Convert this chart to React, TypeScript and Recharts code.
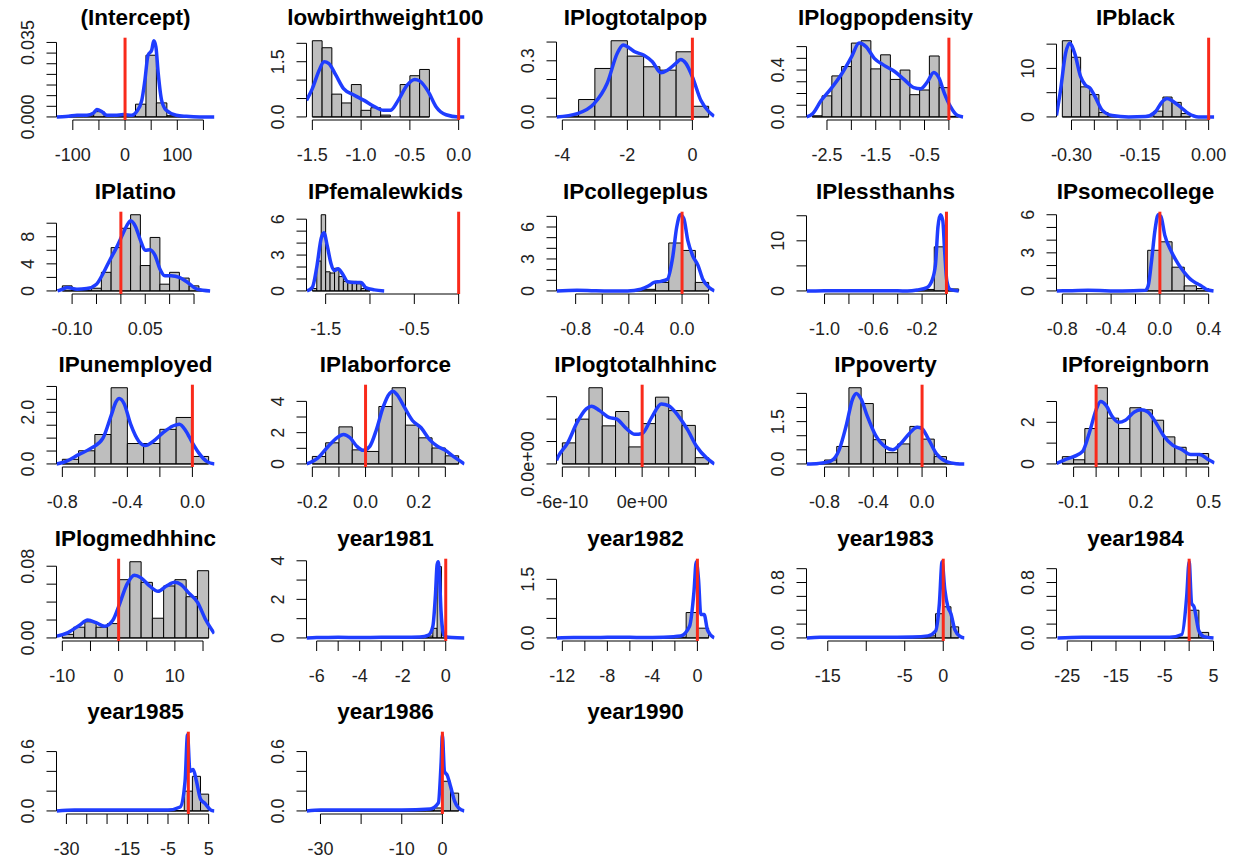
import React from "react";
import { ComposedChart, Line, XAxis, YAxis, ReferenceArea, ReferenceLine } from "recharts";

type Tick = [number, string];
type Pt = [number, number];

const trueValue = 0;

// (Intercept)
const interceptBreaks = [-120, -100, -80, -60, -40, -20, 0, 20, 40, 60, 80, 100, 120, 140, 160];
const interceptHeights = [0.0002, 0.0003, 0.0005, 0.0025, 0.0003, 0.0004, 0.0008, 0.006, 0.029, 0.0066, 0.0006, 0.0003, 0.0002, 0.0001];
const interceptDensity: Pt[] = [[-131, 0], [-120, 0.0001], [-108, 0.0003], [-92, 0.0008], [-73, 0.0008], [-60, 0.0019], [-54, 0.0035], [-44, 0.0024], [-35, 0.0008], [-19, 0.0008], [-3, 0.0011], [13, 0.0008], [22, 0.0024], [32, 0.0078], [38, 0.0173], [44, 0.029], [51, 0.0314], [55, 0.0358], [59, 0.033], [63.5, 0.0204], [70, 0.0078], [79, 0.0031], [98, 0.0008], [117, 0.0003], [143, 0], [171, 0]];
const interceptXTicks: Tick[] = [[-100, "-100"], [-50, ""], [0, "0"], [50, ""], [100, "100"], [150, ""]];
const interceptYTicks: Tick[] = [[0, "0.000"], [0.005, ""], [0.01, ""], [0.015, ""], [0.02, ""], [0.025, ""], [0.03, ""], [0.035, "0.035"]];

// lowbirthweight100
const lbwBreaks = [-1.5, -1.4, -1.3, -1.2, -1.1, -1.0, -0.9, -0.8, -0.7, -0.6, -0.5, -0.4, -0.3];
const lbwHeights = [2.07, 1.88, 0.62, 0.38, 0.88, 0.18, 0.25, 0.05, 0, 0.88, 1.12, 1.29];
const lbwDensity: Pt[] = [[-1.56, 0.45], [-1.5, 0.77], [-1.43, 1.27], [-1.38, 1.5], [-1.33, 1.45], [-1.26, 1.14], [-1.18, 0.77], [-1.07, 0.59], [-0.97, 0.45], [-0.87, 0.29], [-0.77, 0.18], [-0.7, 0.18], [-0.62, 0.45], [-0.53, 0.86], [-0.45, 1.02], [-0.4, 0.98], [-0.31, 0.68], [-0.23, 0.27], [-0.13, 0.06], [0, 0], [0.06, 0]];
const lbwXTicks: Tick[] = [[-1.5, "-1.5"], [-1, "-1.0"], [-0.5, "-0.5"], [0, "0.0"]];
const lbwYTicks: Tick[] = [[0, "0.0"], [0.5, ""], [1, ""], [1.5, "1.5"], [2, ""]];

// IPlogtotalpop
const totpopBreaks = [-4, -3.5, -3, -2.5, -2, -1.5, -1, -0.5, 0, 0.5];
const totpopHeights = [0.005, 0.093, 0.259, 0.407, 0.325, 0.268, 0.25, 0.348, 0.057];
const totpopDensity: Pt[] = [[-4.18, 0], [-3.54, 0.018], [-3.03, 0.07], [-2.62, 0.18], [-2.31, 0.34], [-2.13, 0.384], [-1.95, 0.37], [-1.79, 0.35], [-1.49, 0.33], [-1.23, 0.295], [-0.97, 0.236], [-0.77, 0.25], [-0.51, 0.286], [-0.36, 0.307], [-0.2, 0.286], [0, 0.214], [0.26, 0.089], [0.51, 0.027], [0.67, 0.004]];
const totpopXTicks: Tick[] = [[-4, "-4"], [-3, ""], [-2, "-2"], [-1, ""], [0, "0"]];
const totpopYTicks: Tick[] = [[0, "0.0"], [0.1, ""], [0.2, ""], [0.3, "0.3"], [0.4, ""]];

// IPlogpopdensity
const popdenBreaks = [-2.8, -2.6, -2.4, -2.2, -2, -1.8, -1.6, -1.4, -1.2, -1, -0.8, -0.6, -0.4, -0.2, 0, 0.2];
const popdenHeights = [0.01, 0.18, 0.35, 0.43, 0.63, 0.65, 0.41, 0.53, 0.32, 0.4, 0.19, 0.23, 0.52, 0.25, 0.005];
const popdenDensity: Pt[] = [[-2.92, 0], [-2.79, 0.03], [-2.62, 0.14], [-2.42, 0.24], [-2.21, 0.36], [-2.0, 0.51], [-1.84, 0.63], [-1.7, 0.6], [-1.53, 0.5], [-1.33, 0.44], [-1.12, 0.39], [-0.92, 0.32], [-0.72, 0.25], [-0.58, 0.24], [-0.44, 0.3], [-0.31, 0.38], [-0.2, 0.33], [-0.1, 0.21], [0.03, 0.09], [0.17, 0.014], [0.29, 0]];
const popdenXTicks: Tick[] = [[-2.5, "-2.5"], [-2, ""], [-1.5, "-1.5"], [-1, ""], [-0.5, "-0.5"], [0, ""]];
const popdenYTicks: Tick[] = [[0, "0.0"], [0.1, ""], [0.2, ""], [0.3, ""], [0.4, "0.4"], [0.5, ""], [0.6, ""]];

// IPblack
const blackBreaks = [-0.32, -0.3, -0.28, -0.26, -0.24, -0.22, -0.2, -0.18, -0.16, -0.14, -0.12, -0.1, -0.08, -0.06, -0.04];
const blackHeights = [15.7, 12.3, 6.2, 4.6, 0.9, 0.3, 0, 0, 0, 0, 1.2, 4.1, 3.0, 0.7];
const blackDensity: Pt[] = [[-0.333, 0.3], [-0.324, 5.5], [-0.313, 13.1], [-0.304, 15.2], [-0.293, 13.1], [-0.28, 8.3], [-0.27, 6.6], [-0.259, 5.9], [-0.248, 4.1], [-0.233, 1.4], [-0.211, 0.3], [-0.175, 0], [-0.138, 0.1], [-0.117, 1.0], [-0.102, 3.1], [-0.091, 3.8], [-0.076, 3.1], [-0.062, 2.1], [-0.044, 0.7], [-0.022, 0], [0.012, 0]];
const blackXTicks: Tick[] = [[-0.3, "-0.30"], [-0.25, ""], [-0.2, ""], [-0.15, "-0.15"], [-0.1, ""], [-0.05, ""], [0, "0.00"]];
const blackYTicks: Tick[] = [[0, "0"], [5, ""], [10, "10"], [15, ""]];

// IPlatino
const latinoBreaks = [-0.12, -0.1, -0.08, -0.06, -0.04, -0.02, 0, 0.02, 0.04, 0.06, 0.08, 0.1, 0.12, 0.14, 0.16, 0.18];
const latinoHeights = [0.75, 0.1, 0.1, 0.4, 2.75, 6.4, 9.25, 11.25, 3.75, 7.9, 1.0, 2.75, 1.9, 0.75, 0.1];
const latinoDensity: Pt[] = [[-0.13, 0], [-0.12, 0.25], [-0.11, 0.5], [-0.09, 0.25], [-0.07, 0.35], [-0.05, 1.0], [-0.037, 2.5], [-0.023, 4.5], [-0.01, 6.25], [0.003, 8.25], [0.013, 9.75], [0.02, 10.35], [0.03, 9.5], [0.04, 7.5], [0.05, 6], [0.06, 6.1], [0.07, 5.25], [0.08, 3.25], [0.09, 2.25], [0.103, 2.25], [0.12, 2.0], [0.137, 1.25], [0.157, 0.25], [0.183, 0]];
const latinoXTicks: Tick[] = [[-0.1, "-0.10"], [-0.05, ""], [0, ""], [0.05, "0.05"], [0.1, ""], [0.15, ""]];
const latinoYTicks: Tick[] = [[0, "0"], [2, ""], [4, "4"], [6, ""], [8, "8"], [10, ""]];

// IPfemalewkids
const femkidsBreaks = [-1.65, -1.6, -1.55, -1.5, -1.45, -1.4, -1.35, -1.3, -1.25, -1.2, -1.15, -1.1, -1.05, -1.0];
const femkidsHeights = [0.2, 2.5, 6.37, 1.6, 1.5, 1.9, 1.2, 0.8, 0.8, 0.8, 0.6, 0.2, 0.1];
const femkidsDensity: Pt[] = [[-1.71, 0], [-1.65, 0.3], [-1.6, 2], [-1.55, 4.4], [-1.52, 4.86], [-1.48, 3.7], [-1.44, 2.3], [-1.4, 1.7], [-1.36, 1.86], [-1.31, 1.43], [-1.25, 0.77], [-1.18, 0.71], [-1.1, 0.71], [-1.05, 0.29], [-0.95, 0.09], [-0.84, 0]];
const femkidsXTicks: Tick[] = [[-1.5, "-1.5"], [-1, ""], [-0.5, "-0.5"], [0, ""]];
const femkidsYTicks: Tick[] = [[0, "0"], [1, ""], [2, ""], [3, "3"], [4, ""], [5, ""], [6, "6"]];

// IPcollegeplus
const collBreaks = [-0.9, -0.8, -0.7, -0.6, -0.5, -0.4, -0.3, -0.2, -0.1, 0, 0.1, 0.2];
const collHeights = [0.03, 0.02, 0.03, 0.02, 0.02, 0.03, 0.15, 0.8, 4.5, 3.8, 0.8];
const collDensity: Pt[] = [[-0.944, 0], [-0.79, 0.06], [-0.66, 0.02], [-0.54, 0], [-0.41, 0], [-0.31, 0.16], [-0.25, 0.48], [-0.21, 0.8], [-0.16, 0.9], [-0.11, 1.1], [-0.07, 3.2], [-0.04, 6.0], [-0.013, 7.15], [0.013, 6.8], [0.043, 4.75], [0.08, 3.3], [0.12, 2.4], [0.156, 1.1], [0.206, 0.3], [0.244, 0]];
const collXTicks: Tick[] = [[-0.8, "-0.8"], [-0.6, ""], [-0.4, "-0.4"], [-0.2, ""], [0, "0.0"], [0.2, ""]];
const collYTicks: Tick[] = [[0, "0"], [1, ""], [2, ""], [3, "3"], [4, ""], [5, ""], [6, "6"], [7, ""]];

// IPlessthanhs
const lthsBreaks = [-1.1, -1.0, -0.9, -0.8, -0.7, -0.6, -0.5, -0.4, -0.3, -0.2, -0.1, 0, 0.1];
const lthsHeights = [0.01, 0.02, 0.01, 0.02, 0.01, 0.02, 0.02, 0.05, 0.1, 0.3, 8.8, 0.4];
const lthsDensity: Pt[] = [[-1.148, 0], [-1.0, 0.02], [-0.8, 0.05], [-0.6, 0.02], [-0.4, 0.03], [-0.32, 0], [-0.24, 0.2], [-0.16, 0.67], [-0.12, 2], [-0.09, 5.3], [-0.07, 12.7], [-0.05, 15.2], [-0.03, 14], [-0.015, 8], [0.003, 2], [0.03, 0.33], [0.1, 0]];
const lthsXTicks: Tick[] = [[-1, "-1.0"], [-0.8, ""], [-0.6, "-0.6"], [-0.4, ""], [-0.2, "-0.2"], [0, ""]];
const lthsYTicks: Tick[] = [[0, "0"], [5, ""], [10, "10"], [15, ""]];

// IPsomecollege
const somecBreaks = [-0.8, -0.7, -0.6, -0.5, -0.4, -0.3, -0.2, -0.1, 0, 0.1, 0.2, 0.3, 0.4];
const somecHeights = [0.01, 0.02, 0.01, 0.01, 0.02, 0.01, 0.02, 3.2, 3.87, 1.87, 0.4, 0.19];
const somecDensity: Pt[] = [[-0.848, 0], [-0.72, 0.02], [-0.59, 0.05], [-0.31, 0], [-0.12, 0.05], [-0.096, 0.4], [-0.068, 2.4], [-0.04, 4.8], [-0.014, 6.0], [0.008, 5.87], [0.04, 4.4], [0.096, 3.07], [0.15, 2.13], [0.2, 1.47], [0.26, 0.85], [0.3, 0.6], [0.34, 0.4], [0.38, 0.13], [0.44, 0]];
const somecXTicks: Tick[] = [[-0.8, "-0.8"], [-0.6, ""], [-0.4, "-0.4"], [-0.2, ""], [0, "0.0"], [0.2, ""], [0.4, "0.4"]];
const somecYTicks: Tick[] = [[0, "0"], [1, ""], [2, ""], [3, "3"], [4, ""], [5, ""], [6, "6"]];

// IPunemployed
const unempBreaks = [-0.8, -0.7, -0.6, -0.5, -0.4, -0.3, -0.2, -0.1, 0, 0.1];
const unempHeights = [0.18, 0.51, 1.14, 2.95, 0.79, 0.79, 1.34, 1.8, 0.29];
const unempDensity: Pt[] = [[-0.836, 0], [-0.78, 0.09], [-0.7, 0.36], [-0.62, 0.62], [-0.55, 1.0], [-0.5, 1.87], [-0.47, 2.4], [-0.45, 2.53], [-0.42, 2.33], [-0.38, 1.54], [-0.33, 0.88], [-0.29, 0.71], [-0.24, 0.88], [-0.18, 1.21], [-0.12, 1.47], [-0.08, 1.54], [-0.04, 1.28], [0, 0.82], [0.04, 0.42], [0.09, 0.09], [0.136, 0]];
const unempXTicks: Tick[] = [[-0.8, "-0.8"], [-0.6, ""], [-0.4, "-0.4"], [-0.2, ""], [0, "0.0"]];
const unempYTicks: Tick[] = [[0, "0.0"], [0.5, ""], [1, ""], [1.5, ""], [2, "2.0"], [2.5, ""], [3, ""]];

// IPlaborforce
const laborBreaks = [-0.2, -0.15, -0.1, -0.05, 0, 0.05, 0.1, 0.15, 0.2, 0.25, 0.3, 0.35];
const laborHeights = [0.48, 1.35, 2.37, 0.9, 0.8, 3.67, 4.87, 2.48, 1.67, 1.02, 0.52];
const laborDensity: Pt[] = [[-0.222, 0], [-0.18, 0.37], [-0.14, 1.13], [-0.108, 1.67], [-0.083, 1.89], [-0.058, 1.67], [-0.033, 1.13], [-0.009, 0.87], [0.016, 1.13], [0.041, 2.2], [0.066, 3.63], [0.09, 4.5], [0.103, 4.65], [0.12, 4.39], [0.146, 3.63], [0.177, 2.76], [0.208, 2.33], [0.24, 1.57], [0.27, 1.13], [0.3, 0.87], [0.33, 0.48], [0.372, 0]];
const laborXTicks: Tick[] = [[-0.2, "-0.2"], [-0.1, ""], [0, "0.0"], [0.1, ""], [0.2, "0.2"], [0.3, ""]];
const laborYTicks: Tick[] = [[0, "0"], [1, ""], [2, "2"], [3, ""], [4, "4"]];

// IPlogtotalhhinc (x in units of 1e-10, y in units of 1e8)
const hhincBreaks = [-6, -5, -4, -3, -2, -1, 0, 1, 2, 3, 4, 5];
const hhincHeights = [4.7, 10.0, 17.0, 8.5, 11.7, 3.8, 9.0, 14.9, 11.9, 8.6, 1.4];
const hhincDensity: Pt[] = [[-6.44, 0.8], [-6.3, 1.7], [-5.6, 4.7], [-4.9, 9.2], [-4.2, 12.3], [-3.8, 12.9], [-3.2, 11.9], [-2.5, 10.4], [-1.9, 10], [-1.26, 8.1], [-0.54, 6.6], [0, 6.8], [0.72, 10.4], [1.44, 13.4], [1.98, 13], [2.7, 10.8], [3.4, 7.7], [4.1, 3.9], [4.86, 1.3], [5.44, 0]];
const hhincXTicks: Tick[] = [[-6, "-6e-10"], [-4, ""], [-2, ""], [0, "0e+00"], [2, ""], [4, ""]];
const hhincYTicks: Tick[] = [[0, "0.0e+00"], [5, ""], [10, ""], [15, ""]];

// IPpoverty
const povBreaks = [-0.9, -0.8, -0.7, -0.6, -0.5, -0.4, -0.3, -0.2, -0.1, 0, 0.1, 0.2, 0.3];
const povHeights = [0.02, 0.14, 0.62, 2.7, 2.14, 0.86, 0.4, 0.71, 1.33, 0.88, 0.26, 0.03];
const povDensity: Pt[] = [[-0.948, 0], [-0.85, 0.02], [-0.75, 0.1], [-0.68, 0.5], [-0.62, 1.4], [-0.57, 2.3], [-0.54, 2.5], [-0.5, 2.3], [-0.45, 1.7], [-0.38, 1.0], [-0.3, 0.6], [-0.24, 0.5], [-0.18, 0.7], [-0.1, 1.1], [-0.04, 1.3], [0, 1.25], [0.05, 0.9], [0.12, 0.35], [0.2, 0.08], [0.28, 0.01], [0.348, 0]];
const povXTicks: Tick[] = [[-0.8, "-0.8"], [-0.6, ""], [-0.4, "-0.4"], [-0.2, ""], [0, "0.0"], [0.2, ""]];
const povYTicks: Tick[] = [[0, "0.0"], [0.5, ""], [1, ""], [1.5, "1.5"], [2, ""], [2.5, ""]];

// IPforeignborn
const fbBreaks = [-0.15, -0.1, -0.05, 0, 0.05, 0.1, 0.15, 0.2, 0.25, 0.3, 0.35, 0.4, 0.45, 0.5];
const fbHeights = [0.35, 0.2, 1.7, 3.66, 2.2, 1.7, 2.7, 2.6, 2.1, 1.3, 0.8, 0.2, 0.5];
const fbDensity: Pt[] = [[-0.176, 0.02], [-0.14, 0.2], [-0.1, 0.35], [-0.06, 0.6], [-0.03, 1.5], [0, 2.6], [0.02, 3.0], [0.045, 2.8], [0.07, 2.3], [0.1, 2.0], [0.13, 2.1], [0.17, 2.5], [0.2, 2.6], [0.23, 2.5], [0.27, 1.9], [0.3, 1.35], [0.34, 0.9], [0.38, 0.7], [0.42, 0.45], [0.46, 0.45], [0.5, 0.2], [0.526, 0.05]];
const fbXTicks: Tick[] = [[-0.1, "-0.1"], [0, ""], [0.1, ""], [0.2, "0.2"], [0.3, ""], [0.4, ""], [0.5, "0.5"]];
const fbYTicks: Tick[] = [[0, "0"], [1, ""], [2, "2"], [3, ""]];

// IPlogmedhhinc
const medincBreaks = [-10, -8, -6, -4, -2, 0, 2, 4, 6, 8, 10, 12, 14, 16];
const medincHeights = [0.004, 0.012, 0.018, 0.012, 0.016, 0.065, 0.085, 0.062, 0.022, 0.058, 0.065, 0.046, 0.075];
const medincDensity: Pt[] = [[-11, 0.002], [-9, 0.006], [-7, 0.014], [-5.5, 0.02], [-4, 0.017], [-2.5, 0.013], [-1, 0.02], [0, 0.035], [1.5, 0.06], [2.8, 0.07], [4, 0.067], [5.5, 0.058], [7, 0.052], [8.5, 0.058], [10, 0.062], [11, 0.06], [12.5, 0.05], [14, 0.04], [15.5, 0.02], [17, 0.005]];
const medincXTicks: Tick[] = [[-10, "-10"], [-5, ""], [0, "0"], [5, ""], [10, "10"], [15, ""]];
const medincYTicks: Tick[] = [[0, "0.00"], [0.02, ""], [0.04, ""], [0.06, ""], [0.08, "0.08"]];

// year1981
const y81Breaks = [-6.2, -6, -5.8, -5.6, -5.4, -5.2, -5, -4.8, -4.6, -4.4, -4.2, -4, -3.8, -3.6, -3.4, -3.2, -3, -2.8, -2.6, -2.4, -2.2, -2, -1.8, -1.6, -1.4, -1.2, -1, -0.8, -0.6, -0.4, -0.2, 0, 0.2, 0.4, 0.6];
const y81Heights = [0.01, 0.01, 0.01, 0.01, 0.01, 0.01, 0.01, 0.01, 0.01, 0.01, 0.01, 0.01, 0.01, 0.01, 0.01, 0.01, 0.01, 0.01, 0.01, 0.01, 0.01, 0.01, 0.01, 0.01, 0.01, 0.02, 0.05, 0.1, 0.5, 3.7, 0.15, 0.05, 0.02, 0.01];
const y81Density: Pt[] = [[-6.47, 0], [-6, 0.02], [-5, 0.03], [-4, 0.02], [-3, 0.03], [-2, 0.03], [-1.2, 0.05], [-0.8, 0.15], [-0.6, 0.6], [-0.48, 2.2], [-0.4, 3.8], [-0.35, 3.95], [-0.3, 3.4], [-0.22, 1.4], [-0.12, 0.3], [0, 0.06], [0.3, 0.02], [0.87, 0]];
const y81XTicks: Tick[] = [[-6, "-6"], [-5, ""], [-4, "-4"], [-3, ""], [-2, "-2"], [-1, ""], [0, "0"]];
const y81YTicks: Tick[] = [[0, "0"], [1, ""], [2, "2"], [3, ""], [4, "4"]];

// year1982
const y82Breaks = [-12, -11, -10, -9, -8, -7, -6, -5, -4, -3, -2, -1, 0, 1];
const y82Heights = [0.005, 0.005, 0.005, 0.005, 0.005, 0.005, 0.005, 0.005, 0.005, 0.005, 0.02, 0.65, 0.25];
const y82Density: Pt[] = [[-12.5, 0], [-11, 0.01], [-9, 0.01], [-7, 0.02], [-5, 0.01], [-3, 0.02], [-1.5, 0.05], [-0.7, 0.3], [-0.3, 1.2], [-0.1, 1.95], [0.1, 1.5], [0.3, 0.6], [0.6, 0.6], [0.9, 0.2], [1.5, 0]];
const y82XTicks: Tick[] = [[-12, "-12"], [-10, ""], [-8, "-8"], [-6, ""], [-4, "-4"], [-2, ""], [0, "0"]];
const y82YTicks: Tick[] = [[0, "0.0"], [0.5, ""], [1, ""], [1.5, "1.5"]];

// year1983
const y83Breaks = [-17, -16, -15, -14, -13, -12, -11, -10, -9, -8, -7, -6, -5, -4, -3, -2, -1, 0, 1, 2];
const y83Heights = [0.003, 0.003, 0.003, 0.003, 0.003, 0.003, 0.003, 0.003, 0.003, 0.003, 0.003, 0.003, 0.003, 0.003, 0.003, 0.03, 0.35, 0.45, 0.16];
const y83Density: Pt[] = [[-17.76, 0], [-16, 0.01], [-12, 0.01], [-8, 0.01], [-4, 0.015], [-2, 0.03], [-1, 0.1], [-0.5, 0.5], [-0.15, 1.1], [0.2, 0.7], [0.6, 0.45], [1.0, 0.35], [1.5, 0.12], [2.2, 0.02], [2.76, 0]];
const y83XTicks: Tick[] = [[-15, "-15"], [-10, ""], [-5, "-5"], [0, "0"]];
const y83YTicks: Tick[] = [[0, "0.0"], [0.2, ""], [0.4, ""], [0.6, ""], [0.8, "0.8"], [1, ""]];

// year1984
const y84Breaks = [-26, -24, -22, -20, -18, -16, -14, -12, -10, -8, -6, -4, -2, 0, 2, 4];
const y84Heights = [0.001, 0.001, 0.001, 0.001, 0.001, 0.001, 0.001, 0.001, 0.001, 0.001, 0.001, 0.002, 0.01, 0.4, 0.08];
const y84Density: Pt[] = [[-27, 0], [-22, 0.01], [-16, 0.01], [-10, 0.01], [-4, 0.01], [-1.5, 0.05], [-0.5, 0.6], [0, 1.1], [0.5, 0.5], [1, 0.45], [2, 0.1], [3, 0.02], [5, 0]];
const y84XTicks: Tick[] = [[-25, "-25"], [-20, ""], [-15, "-15"], [-10, ""], [-5, "-5"], [0, ""], [5, "5"]];
const y84YTicks: Tick[] = [[0, "0.0"], [0.2, ""], [0.4, ""], [0.6, ""], [0.8, "0.8"], [1, ""]];

// year1985
const y85Breaks = [-31, -29, -27, -25, -23, -21, -19, -17, -15, -13, -11, -9, -7, -5, -3, -1, 1, 3, 5];
const y85Heights = [0.002, 0.002, 0.002, 0.002, 0.002, 0.002, 0.002, 0.002, 0.002, 0.002, 0.002, 0.002, 0.002, 0.002, 0.004, 0.2, 0.35, 0.17];
const y85Density: Pt[] = [[-32.4, 0], [-28, 0.01], [-20, 0.01], [-12, 0.01], [-5, 0.01], [-2, 0.04], [-0.8, 0.3], [-0.2, 0.77], [0.4, 0.4], [1.2, 0.42], [2, 0.3], [3, 0.12], [4, 0.08], [5.5, 0.01], [6.4, 0]];
const y85XTicks: Tick[] = [[-30, "-30"], [-25, ""], [-20, ""], [-15, "-15"], [-10, ""], [-5, "-5"], [0, ""], [5, "5"]];
const y85YTicks: Tick[] = [[0, "0.0"], [0.2, ""], [0.4, ""], [0.6, "0.6"]];

// year1986
const y86Breaks = [-32, -30, -28, -26, -24, -22, -20, -18, -16, -14, -12, -10, -8, -6, -4, -2, 0, 2, 4];
const y86Heights = [0.002, 0.002, 0.002, 0.002, 0.002, 0.002, 0.002, 0.002, 0.002, 0.002, 0.002, 0.002, 0.002, 0.002, 0.003, 0.03, 0.3, 0.18];
const y86Density: Pt[] = [[-33.4, 0], [-30, 0.01], [-20, 0.01], [-10, 0.01], [-3, 0.02], [-1, 0.08], [-0.3, 0.5], [0, 0.77], [0.5, 0.4], [1.2, 0.36], [2, 0.25], [3, 0.1], [4, 0.03], [5.4, 0]];
const y86XTicks: Tick[] = [[-30, "-30"], [-20, ""], [-10, "-10"], [0, "0"]];
const y86YTicks: Tick[] = [[0, "0.0"], [0.2, ""], [0.4, ""], [0.6, "0.6"]];

type PanelDef = {
  title: string;
  breaks?: number[];
  heights?: number[];
  density?: Pt[];
  xTicks?: Tick[];
  yTicks?: Tick[];
};

const panels: PanelDef[] = [
  { title: "(Intercept)", breaks: interceptBreaks, heights: interceptHeights, density: interceptDensity, xTicks: interceptXTicks, yTicks: interceptYTicks },
  { title: "lowbirthweight100", breaks: lbwBreaks, heights: lbwHeights, density: lbwDensity, xTicks: lbwXTicks, yTicks: lbwYTicks },
  { title: "IPlogtotalpop", breaks: totpopBreaks, heights: totpopHeights, density: totpopDensity, xTicks: totpopXTicks, yTicks: totpopYTicks },
  { title: "IPlogpopdensity", breaks: popdenBreaks, heights: popdenHeights, density: popdenDensity, xTicks: popdenXTicks, yTicks: popdenYTicks },
  { title: "IPblack", breaks: blackBreaks, heights: blackHeights, density: blackDensity, xTicks: blackXTicks, yTicks: blackYTicks },
  { title: "IPlatino", breaks: latinoBreaks, heights: latinoHeights, density: latinoDensity, xTicks: latinoXTicks, yTicks: latinoYTicks },
  { title: "IPfemalewkids", breaks: femkidsBreaks, heights: femkidsHeights, density: femkidsDensity, xTicks: femkidsXTicks, yTicks: femkidsYTicks },
  { title: "IPcollegeplus", breaks: collBreaks, heights: collHeights, density: collDensity, xTicks: collXTicks, yTicks: collYTicks },
  { title: "IPlessthanhs", breaks: lthsBreaks, heights: lthsHeights, density: lthsDensity, xTicks: lthsXTicks, yTicks: lthsYTicks },
  { title: "IPsomecollege", breaks: somecBreaks, heights: somecHeights, density: somecDensity, xTicks: somecXTicks, yTicks: somecYTicks },
  { title: "IPunemployed", breaks: unempBreaks, heights: unempHeights, density: unempDensity, xTicks: unempXTicks, yTicks: unempYTicks },
  { title: "IPlaborforce", breaks: laborBreaks, heights: laborHeights, density: laborDensity, xTicks: laborXTicks, yTicks: laborYTicks },
  { title: "IPlogtotalhhinc", breaks: hhincBreaks, heights: hhincHeights, density: hhincDensity, xTicks: hhincXTicks, yTicks: hhincYTicks },
  { title: "IPpoverty", breaks: povBreaks, heights: povHeights, density: povDensity, xTicks: povXTicks, yTicks: povYTicks },
  { title: "IPforeignborn", breaks: fbBreaks, heights: fbHeights, density: fbDensity, xTicks: fbXTicks, yTicks: fbYTicks },
  { title: "IPlogmedhhinc", breaks: medincBreaks, heights: medincHeights, density: medincDensity, xTicks: medincXTicks, yTicks: medincYTicks },
  { title: "year1981", breaks: y81Breaks, heights: y81Heights, density: y81Density, xTicks: y81XTicks, yTicks: y81YTicks },
  { title: "year1982", breaks: y82Breaks, heights: y82Heights, density: y82Density, xTicks: y82XTicks, yTicks: y82YTicks },
  { title: "year1983", breaks: y83Breaks, heights: y83Heights, density: y83Density, xTicks: y83XTicks, yTicks: y83YTicks },
  { title: "year1984", breaks: y84Breaks, heights: y84Heights, density: y84Density, xTicks: y84XTicks, yTicks: y84YTicks },
  { title: "year1985", breaks: y85Breaks, heights: y85Heights, density: y85Density, xTicks: y85XTicks, yTicks: y85YTicks },
  { title: "year1986", breaks: y86Breaks, heights: y86Heights, density: y86Density, xTicks: y86XTicks, yTicks: y86YTicks },
  { title: "year1990" },
];

const FONT = '"Liberation Sans", Arial, Helvetica, sans-serif';
const W = 250;
const H = 174;
const ROW_H = 173.6;
const PL = 56.5; // plot left
const PR = 214.5; // plot right
const PT = 37.7; // plot top
const PB = 120; // plot bottom
const YAXIS_W = 50;
const XAXIS_H = 40;
const TICK_LEN = 10;
const GRAY = "#bebebe";
const BLUE = "#1f3dff";
const RED = "#f92a1b";
const LABEL = "#222";

const findLabel = (ticks: Tick[], v: number) => {
  const hit = ticks.find((t) => Math.abs(t[0] - v) < 1e-12);
  return hit ? hit[1] : "";
};

const xTick = (ticks: Tick[]) => (props: any) => (
  <text x={props.x} y={PB + 41.3} textAnchor="middle" fontSize={18} fill={LABEL} fontFamily={FONT}>
    {findLabel(ticks, props.payload?.value)}
  </text>
);

const yTick = (ticks: Tick[]) => (props: any) => {
  const x = PL - 22.7;
  const y = props.y;
  return (
    <text x={x} y={y} transform={`rotate(-90 ${x} ${y})`} textAnchor="middle" fontSize={18} fill={LABEL} fontFamily={FONT}>
      {findLabel(ticks, props.payload?.value)}
    </text>
  );
};

function Title({ text }: { text: string }) {
  return (
    <svg width={W} height={H} style={{ position: "absolute", left: 0, top: 0, pointerEvents: "none" }}>
      <text x={(PL + PR) / 2} y={25} textAnchor="middle" fontSize={22.5} fontWeight="bold" fill="#000" fontFamily={FONT}>
        {text}
      </text>
    </svg>
  );
}

function Histogram({ p }: { p: PanelDef }) {
  const breaks = p.breaks!;
  const heights = p.heights!;
  const density = p.density!;
  const xt = p.xTicks!.map((t) => t[0]);
  const yt = p.yTicks!.map((t) => t[0]);

  const lo = Math.min(breaks[0], trueValue);
  const hi = Math.max(breaks[breaks.length - 1], trueValue);
  const xPad = (hi - lo) * 0.04;
  const xMin = lo - xPad;
  const xMax = hi + xPad;
  const yTop = Math.max(...heights, ...density.map((d) => d[1]));
  const yMin = -yTop * 0.04;
  const yMax = yTop * 1.04;
  const data = density.map(([x, y]) => ({ x, y }));

  return (
    <ComposedChart
      width={W}
      height={H}
      data={data}
      margin={{ top: PT, right: W - PR, bottom: H - PB - XAXIS_H, left: PL - YAXIS_W }}
    >
      <XAxis
        dataKey="x"
        type="number"
        domain={[xMin, xMax]}
        allowDataOverflow
        ticks={xt}
        interval={0}
        height={XAXIS_H}
        tickSize={TICK_LEN}
        tickMargin={0}
        axisLine={false}
        tickLine={{ stroke: "#000", strokeWidth: 1 }}
        tick={xTick(p.xTicks!)}
      />
      <YAxis
        type="number"
        domain={[yMin, yMax]}
        allowDataOverflow
        ticks={yt}
        interval={0}
        width={YAXIS_W}
        tickSize={TICK_LEN}
        tickMargin={0}
        axisLine={false}
        tickLine={{ stroke: "#000", strokeWidth: 1 }}
        tick={yTick(p.yTicks!)}
      />
      {heights.map((h, i) =>
        h > 0 ? (
          <ReferenceArea
            key={`bin-${i}`}
            x1={breaks[i]}
            x2={breaks[i + 1]}
            y1={0}
            y2={h}
            fill={GRAY}
            fillOpacity={1}
            stroke="#000"
            strokeWidth={1}
            ifOverflow="visible"
            zIndex={100}
          />
        ) : null
      )}
      <ReferenceLine
        segment={[{ x: breaks[0], y: 0 }, { x: breaks[breaks.length - 1], y: 0 }]}
        stroke="#000"
        strokeWidth={1}
        ifOverflow="visible"
        zIndex={110}
      />
      <ReferenceLine
        segment={[{ x: xt[0], y: yMin }, { x: xt[xt.length - 1], y: yMin }]}
        stroke="#000"
        strokeWidth={1}
        ifOverflow="visible"
      />
      <ReferenceLine
        segment={[{ x: xMin, y: yt[0] }, { x: xMin, y: yt[yt.length - 1] }]}
        stroke="#000"
        strokeWidth={1}
        ifOverflow="visible"
      />
      <Line
        dataKey="y"
        type="monotone"
        stroke={BLUE}
        strokeWidth={3.5}
        dot={false}
        activeDot={false}
        isAnimationActive={false}
        zIndex={400}
      />
      <ReferenceLine x={trueValue} stroke={RED} strokeWidth={3} ifOverflow="visible" zIndex={450} />
    </ComposedChart>
  );
}

export default function App() {
  return (
    <div
      style={{
        position: "absolute",
        left: 0,
        top: 0,
        width: 1234,
        height: 863,
        overflow: "hidden",
        background: "#fff",
      }}
    >
      {panels.map((p, i) => {
        const col = i % 5;
        const row = Math.floor(i / 5);
        return (
          <div key={p.title} style={{ position: "absolute", left: col * W, top: row * ROW_H, width: W, height: H }}>
            {p.breaks ? <Histogram p={p} /> : null}
            <Title text={p.title} />
          </div>
        );
      })}
    </div>
  );
}
